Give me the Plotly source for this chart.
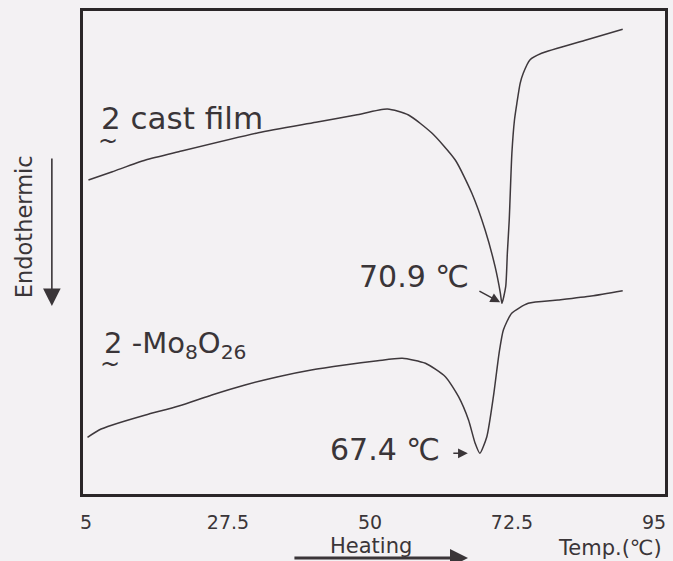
import plotly.graph_objects as go

# DSC heating traces (temperature in degC, heat flow in arbitrary units; down = endothermic)
temp_cast = [5.39, 9.18, 14.44, 19.69, 32.30, 41.44, 47.75, 52.75, 56.10, 59.84,
             63.51, 66.14, 68.24, 69.82, 70.66, 70.9, 71.50, 71.76, 72.06, 72.48,
             72.89, 73.27, 73.79, 74.28, 75.33, 77.18, 83.97, 90.04]
flow_cast = [31.40, 32.23, 33.40, 34.23, 36.13, 37.17, 37.90, 38.50, 37.90, 36.07,
             33.40, 30.07, 26.40, 22.73, 20.07, 19.07, 20.73, 24.07, 27.40, 34.07,
             37.40, 39.07, 41.07, 42.07, 43.40, 44.07, 45.35, 46.47]

temp_mo = [5.24, 7.08, 9.18, 14.44, 19.69, 24.94, 30.20, 35.45, 40.70, 45.97,
           51.22, 55.11, 58.78, 61.94, 64.03, 65.61, 66.66, 67.4, 68.51, 69.55,
           70.45, 71.13, 72.45, 75.07, 79.80, 85.06, 90.04]
flow_mo = [5.67, 6.40, 6.90, 7.90, 8.80, 9.90, 10.90, 11.73, 12.40, 12.90,
           13.33, 13.57, 13.07, 11.73, 9.73, 7.40, 5.07, 4.07, 5.73, 9.73,
           14.07, 16.40, 18.07, 19.07, 19.40, 19.80, 20.33]

peak_cast = 70.9
peak_mo = 67.4

tick_vals = [5, 27.5, 50, 72.5, 95]
tick_text = ["5", "27.5", "50", "72.5", "95"]

FONT = "DejaVu Sans"
INK = "#3a3538"
LINE = "#3e383c"
PAPER = "#f3f1f3"

fig = go.Figure()
for tx, fy in ((temp_cast, flow_cast), (temp_mo, flow_mo)):
    fig.add_trace(go.Scatter(
        x=tx, y=fy, mode="lines",
        line=dict(color=LINE, width=1.5, shape="spline", smoothing=0.6),
        hoverinfo="skip", showlegend=False,
    ))

y_min_cast = flow_cast[temp_cast.index(peak_cast)]
y_min_mo = flow_mo[temp_mo.index(peak_mo)]

DOM = dict(xref="x domain", yref="y domain", axref="x domain", ayref="y domain")


def label(**kw):
    kw.setdefault("showarrow", False)
    return kw


annotations = [
    # sample labels with the wavy underline under the compound number
    label(x=7.0, y=37.6, text="2 cast film", xanchor="left", yanchor="middle",
          font=dict(size=31)),
    label(x=8.5, y=35.35, text="~", xanchor="center", yanchor="middle",
          font=dict(size=24)),
    label(x=7.5, y=14.9, text="2 -Mo<sub>8</sub>O<sub>26</sub>", xanchor="left",
          yanchor="middle", font=dict(size=29)),
    label(x=8.85, y=13.0, text="~", xanchor="center", yanchor="middle",
          font=dict(size=24)),
    # peak temperatures
    label(x=56.9, y=21.8, text=f"{peak_cast} ℃", xanchor="center", yanchor="middle",
          font=dict(size=30)),
    dict(x=peak_cast, y=y_min_cast, text="", showarrow=True, ax=-24, ay=-13,
         arrowhead=2, arrowsize=1.3, arrowwidth=1.5, arrowcolor=INK, standoff=2),
    label(x=52.45, y=4.5, text=f"{peak_mo} ℃", xanchor="center", yanchor="middle",
          font=dict(size=30)),
    dict(x=peak_mo, y=y_min_mo, text="", showarrow=True, ax=-28, ay=0,
         arrowhead=2, arrowsize=1.3, arrowwidth=1.5, arrowcolor=INK, standoff=12),
    # axis captions
    label(xref="paper", yref="paper", x=0.4957, y=-0.1068, text="Heating",
          xanchor="center", yanchor="middle", font=dict(size=21)),
    label(xref="paper", yref="paper", x=0.905, y=-0.1118, text="Temp.(℃)",
          xanchor="center", yanchor="middle", font=dict(size=21)),
    label(xref="paper", yref="paper", x=-0.102, y=0.5538, text="Endothermic",
          textangle=-90, xanchor="center", yanchor="middle", font=dict(size=22.5)),
    # direction arrows
    dict(**DOM, x=-0.0535, y=0.3892, ax=-0.0535, ay=0.6977, text="", showarrow=True,
         arrowhead=2, arrowsize=2.2, arrowwidth=1.6, arrowcolor=INK),
    dict(**DOM, x=0.6615, y=-0.1325, ax=0.3607, ay=-0.1325, text="", showarrow=True,
         arrowhead=2, arrowsize=1.2, arrowwidth=3, arrowcolor=INK),
]

fig.update_layout(
    width=673, height=561,
    margin=dict(l=83, r=5, t=11, b=67),
    paper_bgcolor=PAPER, plot_bgcolor=PAPER,
    font=dict(family=FONT, color=INK, size=19),
    annotations=annotations,
    xaxis=dict(range=[4.527, 96.74], tickvals=tick_vals, ticktext=tick_text,
               showgrid=False, zeroline=False, ticks="", ticklabelstandoff=9,
               showline=True, mirror=True, linecolor="#2a2628", linewidth=2.5,
               tickfont=dict(size=19)),
    yaxis=dict(range=[0, 48.3], showgrid=False, zeroline=False, ticks="",
               showticklabels=False, showline=True, mirror=True,
               linecolor="#2a2628", linewidth=2.5),
)

fig.write_html("out.html")
